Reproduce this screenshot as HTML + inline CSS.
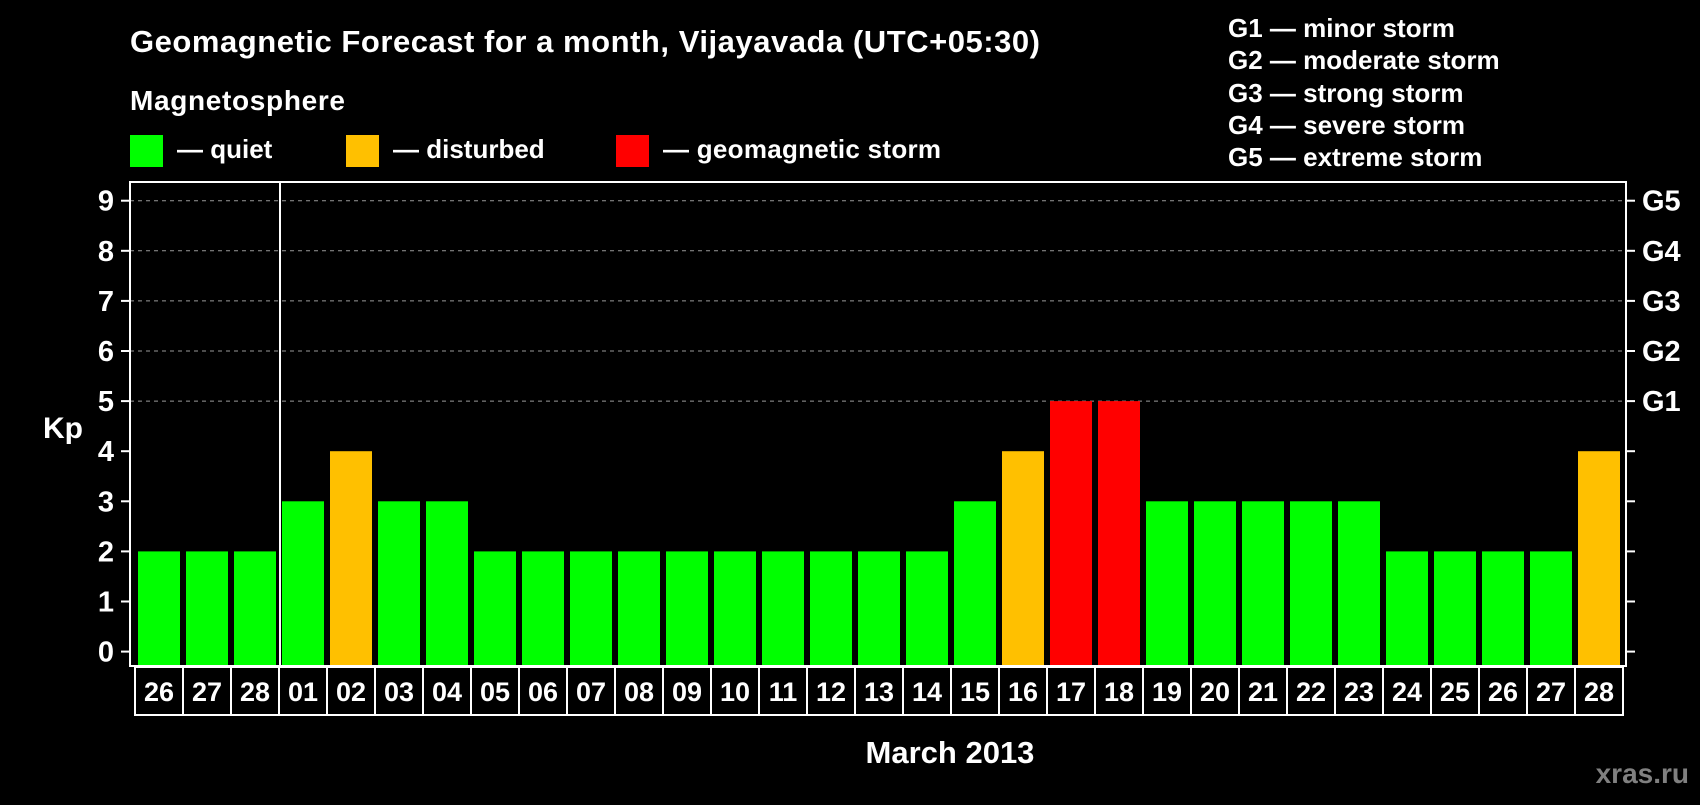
<!DOCTYPE html>
<html><head><meta charset="utf-8"><style>
body{margin:0;background:#000;width:1700px;height:800px;overflow:hidden}
svg text{font-family:"Liberation Sans",Arial,sans-serif;font-weight:bold;fill:#fff}
</style></head><body>
<svg id="chart" width="1700" height="800" xmlns="http://www.w3.org/2000/svg">
<rect width="1700" height="800" fill="#000"/>
<text x="130" y="52" font-size="31" textLength="910">Geomagnetic Forecast for a month, Vijayavada (UTC+05:30)</text>
<text x="130" y="110" font-size="28" textLength="215">Magnetosphere</text>
<rect x="130" y="135" width="33" height="32" fill="#00ff00"/>
<text x="177" y="158" font-size="26">— quiet</text>
<rect x="346" y="135" width="33" height="32" fill="#ffc000"/>
<text x="393" y="158" font-size="26">— disturbed</text>
<rect x="616" y="135" width="33" height="32" fill="#ff0000"/>
<text x="663" y="158" font-size="26" textLength="278">— geomagnetic storm</text>
<g font-size="26">
<text x="1228" y="37">G1 — minor storm</text>
<text x="1228" y="69">G2 — moderate storm</text>
<text x="1228" y="102">G3 — strong storm</text>
<text x="1228" y="134">G4 — severe storm</text>
<text x="1228" y="166">G5 — extreme storm</text>
</g>
<text x="43" y="438" font-size="30">Kp</text>
<text x="950" y="763" font-size="31" text-anchor="middle">March 2013</text>
<text x="1689" y="783" font-size="28" text-anchor="end" style="fill:#808080">xras.ru</text>
<g id="grid"></g><g id="bars"></g><g id="axes"></g>
</svg>
<script>
const dayLabels=["26","27","28","01","02","03","04","05","06","07","08","09","10","11","12","13","14","15","16","17","18","19","20","21","22","23","24","25","26","27","28"];
const kpValues=[2,2,2,3,4,3,3,2,2,2,2,2,2,2,2,2,2,3,4,5,5,3,3,3,3,3,2,2,2,2,4];
const yTicks=[0,1,2,3,4,5,6,7,8,9];
const gLabels=["G1","G2","G3","G4","G5"];
const gLevels=[5,6,7,8,9];
const NS="http://www.w3.org/2000/svg";
const L=130,R=1626,T=182,B=666;
const y=v=>651.6-v*50.1;
const x=i=>138+i*48;
function mk(tag,attrs,parent,txt){const e=document.createElementNS(NS,tag);for(const k in attrs)e.setAttribute(k,attrs[k]);if(txt!==undefined)e.textContent=txt;parent.appendChild(e);return e;}
const grid=document.getElementById('grid'),bars=document.getElementById('bars'),axes=document.getElementById('axes');
gLevels.forEach((g,i)=>{
 const ln=mk('line',{x1:L,x2:R,y1:y(g),y2:y(g),stroke:'#999','stroke-dasharray':'4,4','stroke-width':1},grid);
 
 
 const t=mk('text',{x:1642,y:y(g)+10,'font-size':29},axes,gLabels[i]);
 
 
});
kpValues.forEach((v,i)=>{
 const c=v>=5?'#ff0000':(v>=4?'#ffc000':'#00ff00');
 const b=mk('rect',{x:x(i),y:y(v),width:42,height:B-1-y(v),fill:c},bars);
 
 
 const cell=mk('rect',{x:135+i*48,y:B+1,width:48,height:48,fill:'none',stroke:'#fff','stroke-width':2},axes);
 
 
 const t=mk('text',{x:159+i*48,y:701,'font-size':27,'text-anchor':'middle'},axes,dayLabels[i]);
 
 
});
yTicks.forEach(v=>{
 const tk=mk('line',{x1:121,x2:L,y1:y(v),y2:y(v),stroke:'#fff','stroke-width':2},axes);
 
 
 const tr=mk('line',{x1:R,x2:1635,y1:y(v),y2:y(v),stroke:'#fff','stroke-width':2},axes);
 
 
 const t=mk('text',{x:114,y:y(v)+10,'font-size':29,'text-anchor':'end'},axes,String(v));
 
 
});
const fr=mk('rect',{x:L,y:T,width:R-L,height:B-T,fill:'none',stroke:'#fff','stroke-width':2},axes);


const dv=mk('line',{x1:280,x2:280,y1:T,y2:B,stroke:'#fff','stroke-width':2},axes);


</script>
</body></html>
